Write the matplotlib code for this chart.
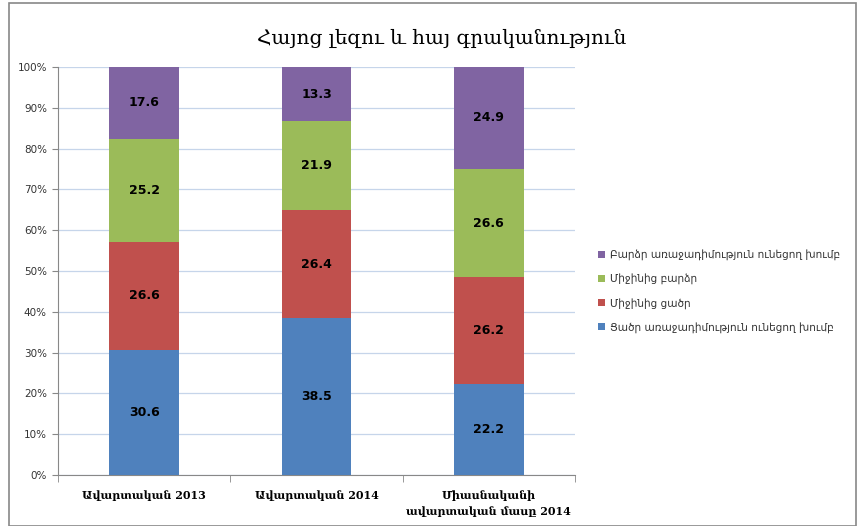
import matplotlib
matplotlib.use("Agg")
import matplotlib.pyplot as plt
from matplotlib.patches import Rectangle
import numpy as np

categories = ["Ավարտական 2013", "Ավարտական 2014", "Միասնականի\nավարտական մասը 2014"]
series_names = ["Ցածր առաջադիմություն ունեցող խումբ", "Միջինից ցածր",
                "Միջինից բարձր", "Բարձր առաջադիմություն ունեցող խումբ"]
low = [30.6, 38.5, 22.2]
mid_low = [26.6, 26.4, 26.2]
mid_high = [25.2, 21.9, 26.6]
high = [17.6, 13.3, 24.9]
colors = ["#4F81BD", "#C0504D", "#9BBB59", "#8064A2"]
title = "Հայոց լեզու և հայ գրականություն"

plt.rcParams['font.family'] = ['DejaVu Sans']

fig = plt.figure(figsize=(8.58, 5.26), dpi=100)
ax = fig.add_axes([58/858, 51/526, 517/858, 408/526])

data = np.array([low, mid_low, mid_high, high])
totals = data.sum(axis=0)
shares = data / totals * 100
x = np.arange(len(categories))
bottom = np.zeros(len(categories))
handles = []
for i in range(4):
    b = ax.bar(x, shares[i], 0.405, bottom=bottom, color=colors[i], label=series_names[i], zorder=3)
    handles.append(b)
    for xi, (v, s, bt) in enumerate(zip(data[i], shares[i], bottom)):
        ax.text(xi, bt + s / 2, f"{v:.1f}", ha="center", va="center",
                fontsize=9, fontweight="bold", color="black", zorder=4)
    bottom += shares[i]

ax.set_xlim(-0.5, 2.5)
ax.set_ylim(0, 100)
ax.set_yticks(np.arange(0, 101, 10))
ax.set_yticklabels([f"{v}%" for v in range(0, 101, 10)], fontsize=7.5, color="#333333")
ax.yaxis.grid(True, color="#C6D5EA", linewidth=0.9, zorder=0)
ax.set_xticks(x)
ax.set_xticklabels(categories, fontsize=8.0, fontweight="bold", family="DejaVu Serif",
                   linespacing=1.5)
ax.tick_params(axis="x", length=0, pad=11)
ax.set_xticks([-0.5, 0.5, 1.5, 2.5], minor=True)
ax.tick_params(axis="x", which="minor", length=5, color="#888888")
ax.tick_params(axis="y", length=4, color="#888888", pad=4)
for side in ["top", "right"]:
    ax.spines[side].set_visible(False)
for side in ["left", "bottom"]:
    ax.spines[side].set_color("#888888")

fig.text(442/858, 1 - 38/526, title, ha="center", va="center", fontsize=14.4,
         family="DejaVu Serif")

leg = fig.legend(handles[::-1], series_names[::-1], loc="center left",
                 bbox_to_anchor=(588/858, 1 - 291/526), frameon=False, fontsize=7.6,
                 handlelength=0.7, handleheight=0.7, handletextpad=0.5, labelspacing=1.25)
for t in leg.get_texts():
    t.set_color("#333333")

fig.patches.append(Rectangle((9/858, 0), 847/858, 1 - 3/526, transform=fig.transFigure,
                             fill=False, edgecolor="#888888", linewidth=1.2))

fig.savefig("out.png", dpi=100)
